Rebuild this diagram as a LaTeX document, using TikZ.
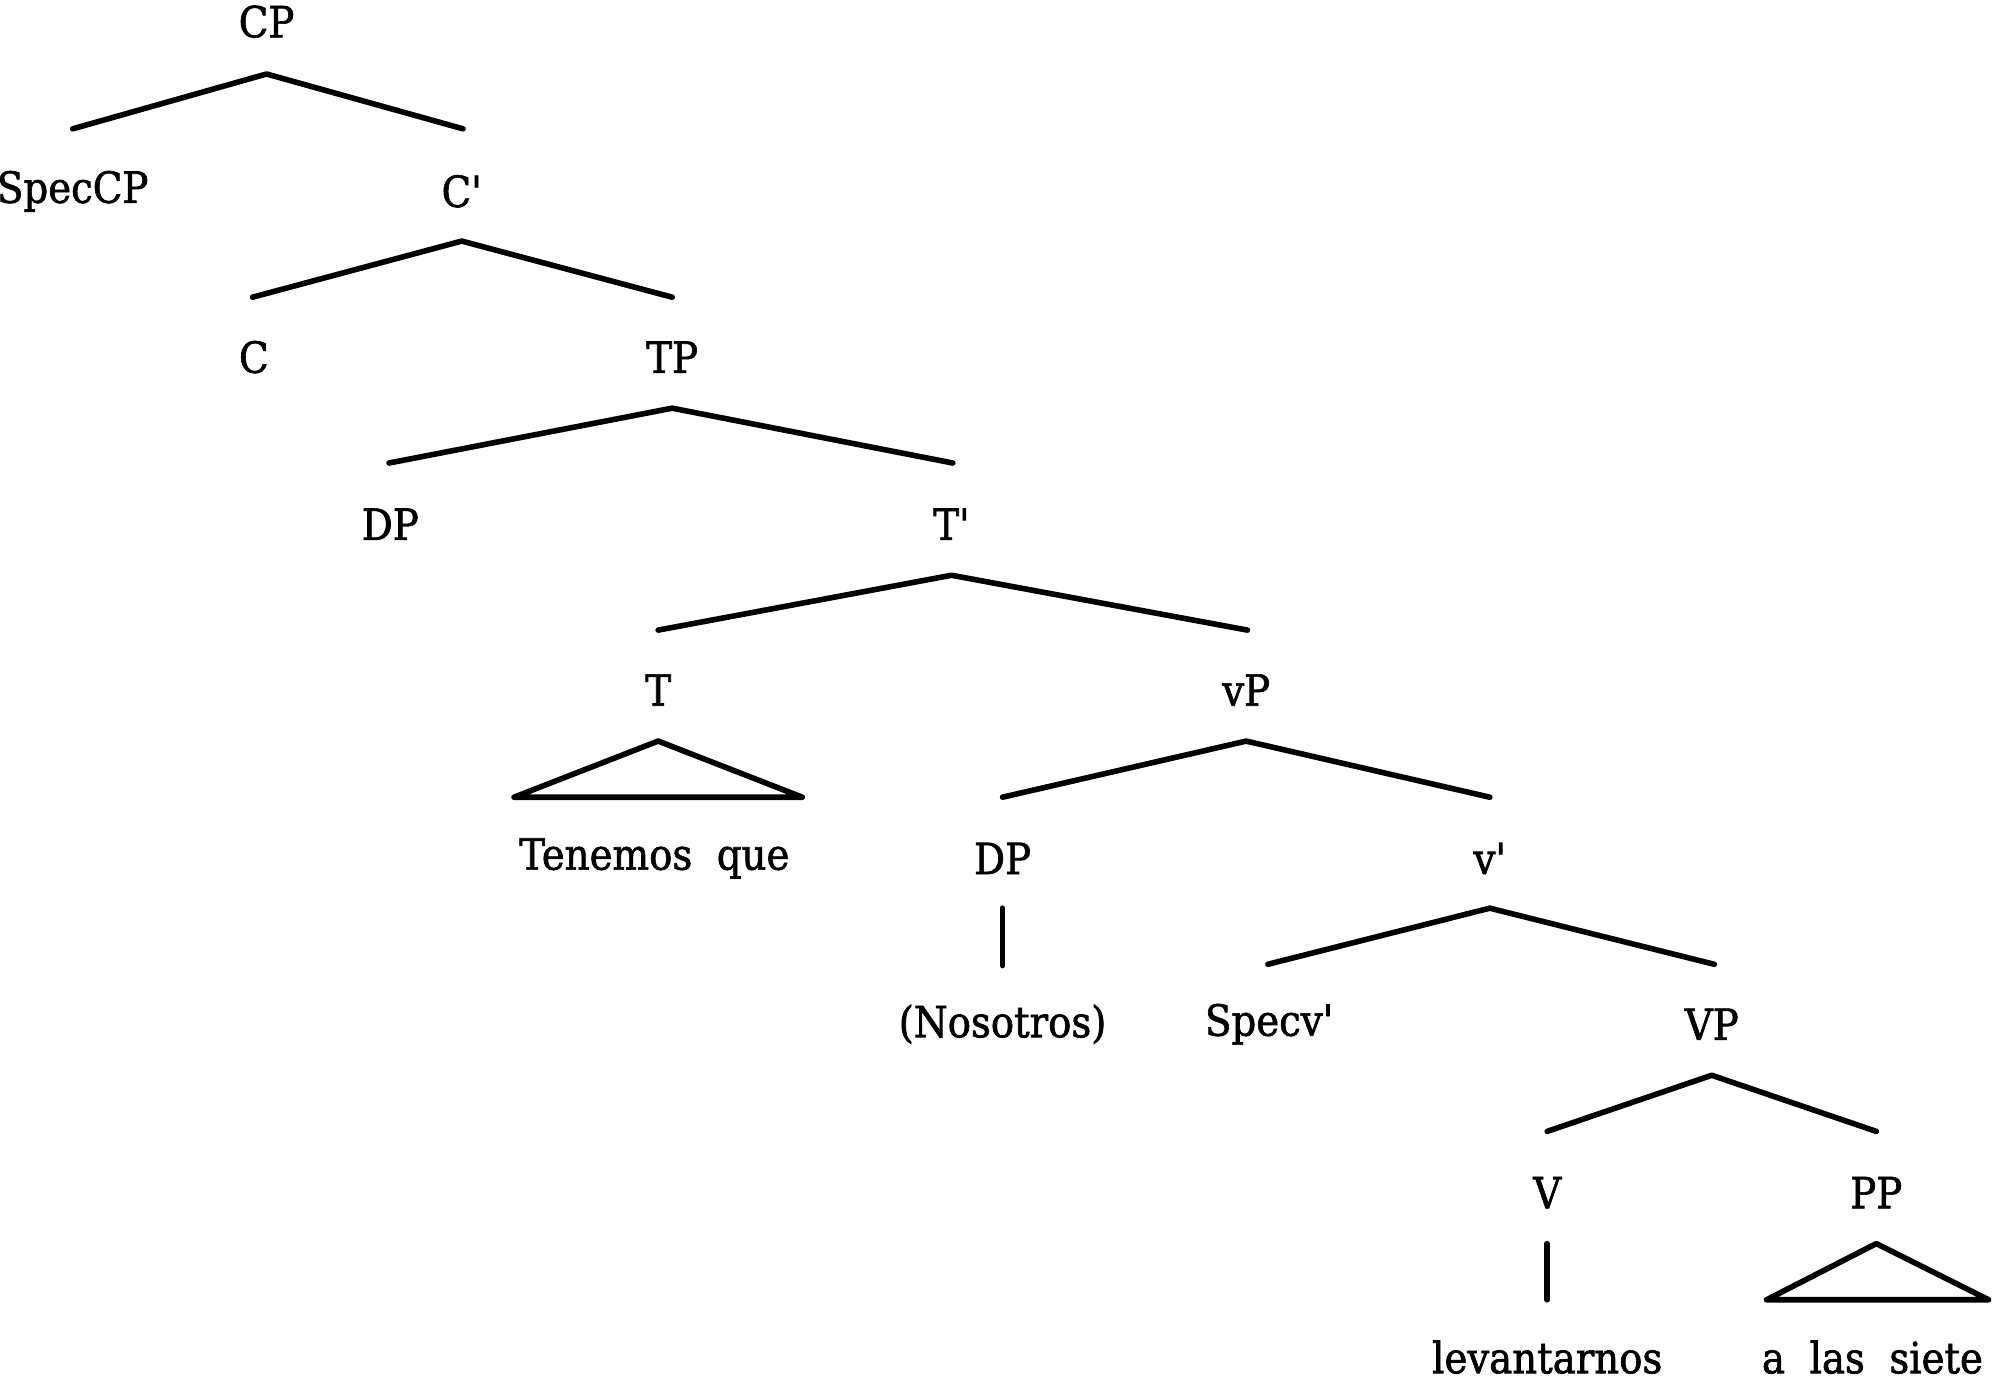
\documentclass[tikz,border=0pt]{standalone}
\usepackage{fontspec}
\newfontfamily\lblfont{DejaVu Serif Condensed}[BoldFont={DejaVu Serif Condensed},BoldFeatures={FakeBold=1.5}]
\usetikzlibrary{calc}
\newcommand{\pr}{{\char"27}}
\begin{document}
\begin{tikzpicture}[x=0.6378pt,y=-0.6378pt,
  lbl/.style={inner sep=0pt,font=\lblfont\bfseries\fontsize{21.5pt}{24pt}\selectfont,anchor=center},
  br/.style={line width=2.8pt,line cap=round,line join=round}]
\useasboundingbox (0,0) rectangle (1568,1083);
% labels
\node[lbl] (CP) at (209,17) {CP};
\node[lbl] (SpecCP) at (57,150) {SpecCP};
\node[lbl] (Cbar) at (362,150) {C\pr};
\node[lbl] (C) at (199,280) {C};
\node[lbl] (TP) at (527,280) {TP};
\node[lbl] (DP1) at (306,411) {DP};
\node[lbl] (Tbar) at (746,411) {T\pr};
\node[lbl] (T) at (516,541) {T};
\node[lbl] (vP) at (977,541) {vP};
\node[lbl] (Ten) at (513,673) {Tenemos\ \ que};
\node[lbl] (DP2) at (786,673) {DP};
\node[lbl] (vbar) at (1168,673) {v\pr};
\node[lbl] (Nos) at (786,803) {(Nosotros)};
\node[lbl] (Specv) at (995,803) {Specv\pr};
\node[lbl] (VP) at (1342,803) {VP};
\node[lbl] (V) at (1213,935) {V};
\node[lbl] (PP) at (1471,935) {PP};
\node[lbl] (lev) at (1213,1064) {levantarnos};
\node[lbl] (siete) at (1468,1064) {a\ \ las\ \ siete};
% branches
\draw[br] ($(SpecCP)+(0,-49)$) -- ($(CP)+(0,41)$) -- ($(Cbar)+(1,-49)$);
\draw[br] ($(C)+(-1,-47)$) -- ($(Cbar)+(0,39)$) -- ($(TP)+(0,-47)$);
\draw[br] ($(DP1)+(-1,-48)$) -- ($(TP)+(0,40)$) -- ($(Tbar)+(1,-48)$);
\draw[br] ($(T)+(0,-47)$) -- ($(Tbar)+(0,40)$) -- ($(vP)+(1,-47)$);
\draw[br] ($(DP2)+(0,-48)$) -- ($(vP)+(0,40)$) -- ($(vbar)+(0,-48)$);
\draw[br] ($(Specv)+(-1,-47)$) -- ($(vbar)+(0,39)$) -- ($(VP)+(2,-47)$);
\draw[br] ($(V)+(0,-48)$) -- ($(VP)+(0,40)$) -- ($(PP)+(0,-48)$);
% triangles
\draw[br] ($(T)+(0,40)$) -- ($(Ten)+(116,-48)$) -- ($(Ten)+(-110,-48)$) -- cycle;
\draw[br] ($(PP)+(0,40)$) -- ($(siete)+(91,-45)$) -- ($(siete)+(-83,-45)$) -- cycle;
% unary
\draw[br] ($(DP2)+(0,39)$) -- ($(Nos)+(0,-46)$);
\draw[br] ($(V)+(0,40)$) -- ($(lev)+(0,-45)$);
\end{tikzpicture}
\end{document}
